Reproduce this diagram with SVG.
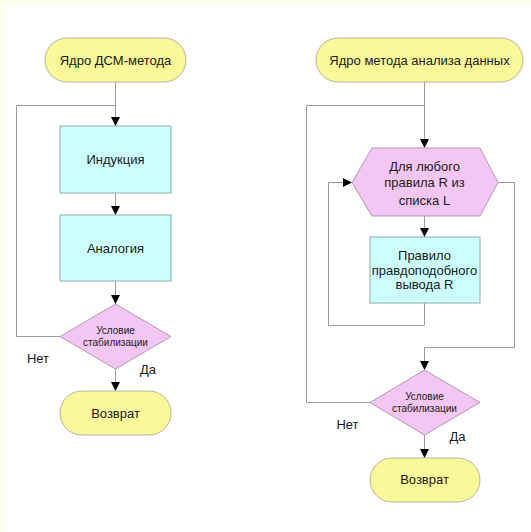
<svg xmlns="http://www.w3.org/2000/svg" width="531" height="532" viewBox="0 0 531 532">
  <style>
    text { font-family: "Liberation Sans", Arial, sans-serif; fill: #1a1a1a; text-anchor: middle; }
    .lbl { font-size: 13px; }
    .small { font-size: 10px; }
    .term { fill: #f9f99a; stroke: #b4b49a; stroke-width: 1; }
    .proc { fill: #ccffff; stroke: #8fa9a9; stroke-width: 1; }
    .dec { fill: #f4c6f4; stroke: #b497b4; stroke-width: 1; }
    .wire { fill: none; stroke: #9a9a9a; stroke-width: 1; }
  </style>
  <defs>
    <marker id="arrow" viewBox="0 0 10 10" refX="10" refY="5" markerWidth="9" markerHeight="9" markerUnits="userSpaceOnUse" orient="auto">
      <path d="M0,0 L10,5 L0,10 Z" fill="#000"/>
    </marker>
  </defs>

  <!-- page background -->
  <rect x="0" y="0" width="531" height="532" fill="#fffff0"/>
  <rect x="5" y="5" width="526" height="527" fill="#ffffff"/>

  <!-- connectors -->
  <g id="connectors">
    <!-- left flow -->
    <path class="wire" d="M115.5,82 V126" marker-end="url(#arrow)"/>
    <path class="wire" d="M115.5,193 V215" marker-end="url(#arrow)"/>
    <path class="wire" d="M115.5,281 V304" marker-end="url(#arrow)"/>
    <path class="wire" d="M60,336.5 H16.5 V105.5 H115.5"/>
    <path class="wire" d="M115.5,369 V391" marker-end="url(#arrow)"/>
    <!-- right flow -->
    <path class="wire" d="M424.5,82 V148" marker-end="url(#arrow)"/>
    <path class="wire" d="M424.5,216 V237" marker-end="url(#arrow)"/>
    <path class="wire" d="M424.5,303 V325.5 H328.5 V182.5 H352" marker-end="url(#arrow)"/>
    <path class="wire" d="M498,182.5 H514.5 V347.5 H424.5 V370" marker-end="url(#arrow)"/>
    <path class="wire" d="M370,402.5 H306.5 V105.5 H424.5"/>
    <path class="wire" d="M424.5,435 V458" marker-end="url(#arrow)"/>
  </g>

  <!-- left chart -->
  <g id="start-dsm">
    <rect class="term" x="45" y="38" width="141" height="44" rx="22"/>
    <text class="lbl" x="115.5" y="64.5">Ядро ДСМ-метода</text>
  </g>
  <g id="induction">
    <rect class="proc" x="60" y="126" width="111" height="67"/>
    <text class="lbl" x="115.5" y="164">Индукция</text>
  </g>
  <g id="analogy">
    <rect class="proc" x="60" y="215" width="111" height="66"/>
    <text class="lbl" x="115.5" y="252.5">Аналогия</text>
  </g>
  <g id="stab-left">
    <polygon class="dec" points="115.5,304 171,336.5 115.5,369 60,336.5"/>
    <text class="small" x="115.5" y="333.5">Условие</text>
    <text class="small" x="115.5" y="345.5">стабилизации</text>
  </g>
  <g id="labels-left">
    <text class="lbl" x="38" y="362.5">Нет</text>
    <text class="lbl" x="148" y="373.5">Да</text>
  </g>
  <g id="return-left">
    <rect class="term" x="60" y="391" width="111" height="44" rx="22"/>
    <text class="lbl" x="115.5" y="417.5">Возврат</text>
  </g>

  <!-- right chart -->
  <g id="start-data">
    <rect class="term" x="316" y="38" width="207" height="44" rx="22"/>
    <text class="lbl" x="419.5" y="64.5">Ядро метода анализа данных</text>
  </g>
  <g id="loop-rules">
    <polygon class="dec" points="372,148 480,148 498,182.5 480,216 372,216 352,182.5"/>
    <text class="lbl" x="424.5" y="170.5">Для любого</text>
    <text class="lbl" x="424.5" y="187">правила R из</text>
    <text class="lbl" x="424.5" y="205">списка L</text>
  </g>
  <g id="rule">
    <rect class="proc" x="370" y="237" width="110" height="66"/>
    <text class="lbl" x="424.5" y="259.5">Правило</text>
    <text class="lbl" x="424.5" y="274.5">правдоподобного</text>
    <text class="lbl" x="424.5" y="289">вывода R</text>
  </g>
  <g id="stab-right">
    <polygon class="dec" points="424.5,370 480,402.5 424.5,435 370,402.5"/>
    <text class="small" x="424.5" y="399.5">Условие</text>
    <text class="small" x="424.5" y="411.5">стабилизации</text>
  </g>
  <g id="labels-right">
    <text class="lbl" x="347.5" y="428.5">Нет</text>
    <text class="lbl" x="457.5" y="440.5">Да</text>
  </g>
  <g id="return-right">
    <rect class="term" x="370" y="458" width="110" height="44" rx="22"/>
    <text class="lbl" x="424.5" y="484">Возврат</text>
  </g>
</svg>
